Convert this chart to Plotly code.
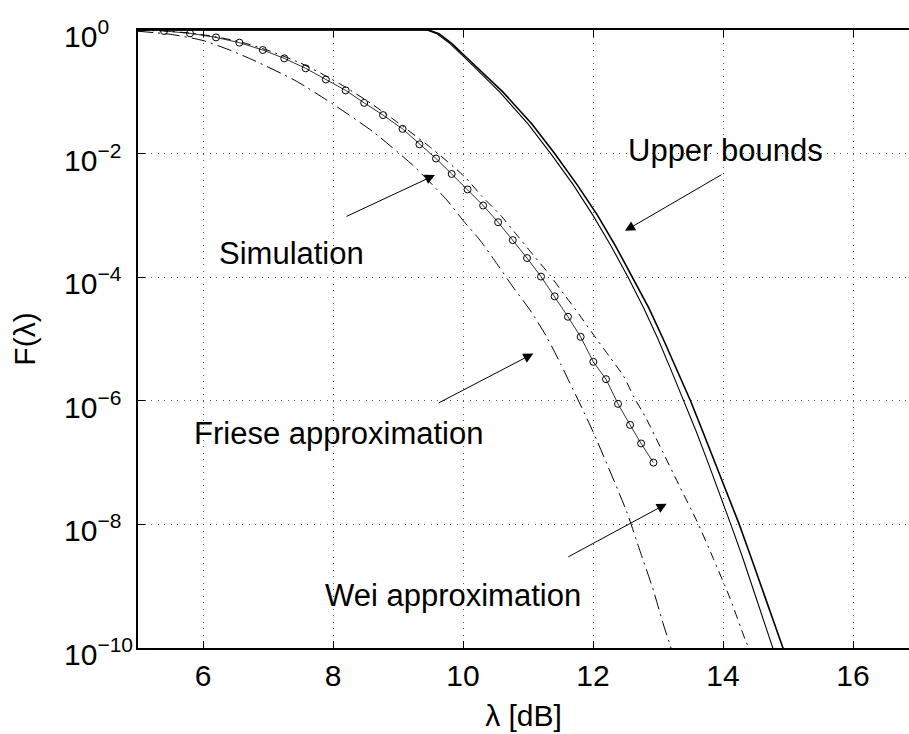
import plotly.graph_objects as go

# ---- data: threshold λ in dB, F(λ) kept as base-10 exponents ----
sim_db = [5.40, 5.80, 6.20, 6.56, 6.92, 7.25, 7.58, 7.89, 8.195, 8.48, 8.77, 9.07,
          9.33, 9.585, 9.826, 10.07, 10.31, 10.54, 10.765, 10.985, 11.20, 11.41,
          11.615, 11.81, 12.005, 12.20, 12.385, 12.57, 12.74, 12.93]
sim_exp = [-0.016, -0.054, -0.12, -0.205, -0.324, -0.459, -0.62, -0.80, -0.977, -1.18,
           -1.377, -1.60, -1.85, -2.08, -2.33, -2.58, -2.84, -3.11, -3.40, -3.69, -3.99,
           -4.31, -4.64, -4.965, -5.37, -5.65, -6.05, -6.39, -6.69, -7.0]

friese_db = [5.0, 5.5, 6.0, 6.4, 6.8, 7.44, 8.0, 8.62, 9.24, 9.75, 10.0, 10.26, 10.52,
             10.77, 11.03, 11.29, 11.5, 12.0, 12.52, 12.72, 12.93, 13.08, 13.17, 13.23]
friese_exp = [-0.02, -0.07, -0.17, -0.32, -0.5, -0.83, -1.2, -1.65, -2.2, -2.75, -3.08,
              -3.4, -3.78, -4.16, -4.53, -4.97, -5.4, -6.5, -7.8, -8.42, -9.07, -9.61,
              -9.9, -10.1]

wei_db = [5.0, 5.4, 5.8, 6.2, 6.6, 7.0, 7.49, 7.83, 8.2, 8.6, 9.0, 9.5, 10.03, 10.29,
          10.58, 10.83, 11.08, 11.34, 11.55, 11.75, 12.0, 12.25, 12.47, 12.63, 12.82,
          13.06, 13.34, 13.6, 13.85, 14.11, 14.34, 14.42]
wei_exp = [-0.006, -0.016, -0.05, -0.11, -0.2, -0.33, -0.53, -0.71, -0.93, -1.2, -1.5,
           -1.9, -2.38, -2.69, -3.0, -3.32, -3.64, -3.97, -4.27, -4.55, -4.92, -5.28,
           -5.6, -5.94, -6.29, -6.8, -7.4, -7.95, -8.55, -9.2, -9.86, -10.05]

ub1_db = [5.0, 9.44, 9.6, 9.8, 10.0, 10.3, 10.57, 11.0, 11.35, 11.7, 12.0, 12.28, 12.54,
          12.78, 13.0, 13.2, 13.4, 13.59, 13.77, 13.95, 14.12, 14.29, 14.45, 14.61,
          14.77, 14.83]
ub1_exp = [0.0, 0.0, -0.06, -0.22, -0.42, -0.73, -1.01, -1.52, -2.0, -2.51, -3.0, -3.5,
           -4.0, -4.5, -5.0, -5.5, -6.0, -6.5, -7.0, -7.5, -8.0, -8.5, -9.0, -9.5,
           -10.0, -10.2]

ub2_db = [5.0, 9.47, 9.63, 9.83, 10.03, 10.34, 10.62, 11.06, 11.41, 11.76, 12.07, 12.35,
          12.61, 12.86, 13.08, 13.29, 13.5, 13.69, 13.88, 14.07, 14.25, 14.42, 14.59,
          14.76, 14.93, 14.99]
ub2_exp = [0.0, 0.0, -0.06, -0.22, -0.42, -0.73, -1.01, -1.52, -2.0, -2.51, -3.0, -3.5,
           -4.0, -4.5, -5.0, -5.5, -6.0, -6.5, -7.0, -7.5, -8.0, -8.5, -9.0, -9.5,
           -10.0, -10.2]

x_ticks = [6, 8, 10, 12, 14, 16]
y_tick_exps = [0, -2, -4, -6, -8, -10]

FONT = "Liberation Sans, Arial, sans-serif"


def pw(exps):
    return [10.0 ** e for e in exps]


fig = go.Figure()

fig.add_trace(go.Scatter(x=ub1_db, y=pw(ub1_exp), mode="lines", name="Upper bound 1",
                         line=dict(color="black", width=1.1)))
fig.add_trace(go.Scatter(x=ub2_db, y=pw(ub2_exp), mode="lines", name="Upper bound 2",
                         line=dict(color="black", width=1.6)))
fig.add_trace(go.Scatter(x=friese_db, y=pw(friese_exp), mode="lines", name="Friese",
                         line=dict(color="black", width=1, dash="15px,5px,2px,5px",
                                   shape="spline", smoothing=0.6)))
fig.add_trace(go.Scatter(x=wei_db, y=pw(wei_exp), mode="lines", name="Wei",
                         line=dict(color="black", width=1, dash="9px,5px,2px,5px",
                                   shape="spline", smoothing=0.6)))
fig.add_trace(go.Scatter(x=sim_db, y=pw(sim_exp), mode="lines+markers", name="Simulation",
                         line=dict(color="black", width=0.8),
                         marker=dict(symbol="circle-open", size=7, color="black",
                                     line=dict(width=1, color="black"))))

annotations = []

# y tick labels: the "10" bases line up on the left
for e in y_tick_exps:
    annotations.append(dict(
        text="10<sup>\u2212%d</sup>" % (-e) if e < 0 else "10<sup>0</sup>",
        xref="paper", yref="y", x=(62 - 138) / 771, y=e,
        xanchor="left", yanchor="middle", yshift=-4, showarrow=False,
        font=dict(family=FONT, size=30, color="black")))

# curve labels
labels = [
    ("Upper bounds", 14.04, -1.943),
    ("Simulation", 7.362, -3.611),
    ("Friese approximation", 8.085, -6.526),
    ("Wei approximation", 9.846, -9.15),
]
for txt, lx, ly in labels:
    annotations.append(dict(text=txt, x=lx, y=ly, xref="x", yref="y", showarrow=False,
                            xanchor="center", yanchor="middle",
                            font=dict(family=FONT, size=31, color="black")))

# arrows: tip in data coordinates, tail offset in pixels
arrows = [
    (12.492, -3.250, 98, -57),
    (9.569, -2.348, -90, 42),
    (11.082, -5.236, -96, 50),
    (13.134, -7.665, -100, 54),
]
for tx, ty, ax, ay in arrows:
    annotations.append(dict(text="", x=tx, y=ty, xref="x", yref="y", ax=ax, ay=ay,
                            showarrow=True, arrowhead=2, arrowsize=2.0, arrowwidth=1,
                            arrowcolor="black", standoff=0))

fig.update_layout(
    width=909, height=734,
    margin=dict(l=138, r=0, t=30, b=86),
    paper_bgcolor="white", plot_bgcolor="white",
    showlegend=False,
    font=dict(family=FONT, size=30, color="black"),
    annotations=annotations,
)

fig.update_xaxes(
    range=[5, 5 + 771 / 65], tickvals=x_ticks,
    showline=True, linecolor="black", linewidth=1.5, mirror="ticks",
    ticks="inside", ticklen=7, tickwidth=1, tickcolor="black",
    tickfont=dict(family=FONT, size=30, color="black"),
    showgrid=True, gridcolor="#555", gridwidth=1, griddash="1px,5.5px",
    zeroline=False,
    title=dict(text="\u03bb [dB]", font=dict(family=FONT, size=30), standoff=14),
)
fig.update_yaxes(
    type="log", range=[-10, 0], tickvals=pw(y_tick_exps), showticklabels=False,
    showline=True, linecolor="black", linewidth=1.5, mirror=False,
    ticks="inside", ticklen=7, tickwidth=1, tickcolor="black",
    showgrid=True, gridcolor="#555", gridwidth=1, griddash="1px,5.5px",
    zeroline=False,
    title=dict(text="F(\u03bb)", font=dict(family=FONT, size=30), standoff=92),
)

fig.write_html("out.html")
